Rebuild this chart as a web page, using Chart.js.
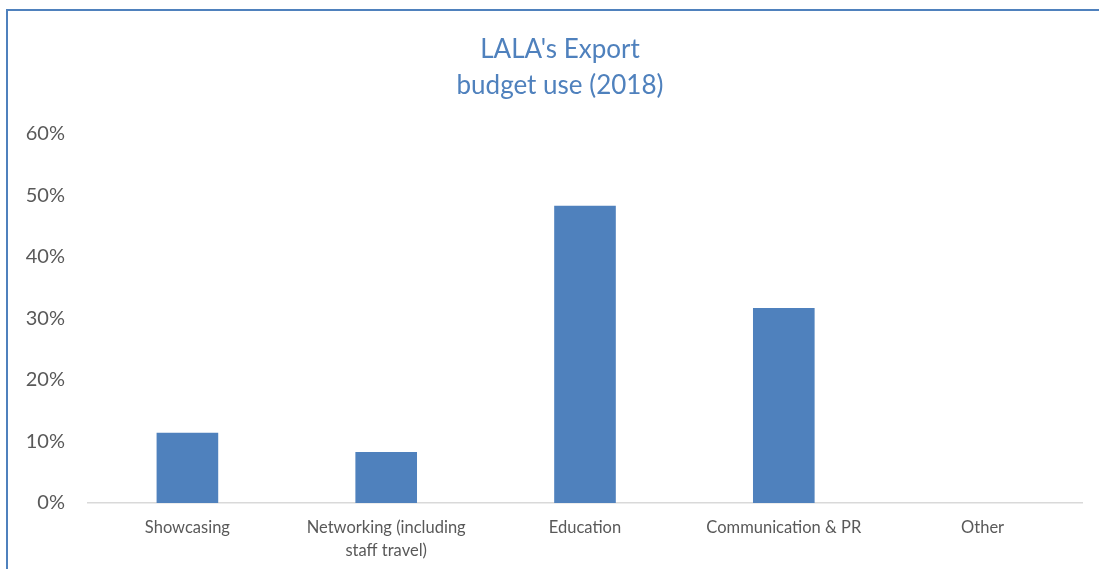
<!DOCTYPE html>
<html>
<head>
<meta charset="utf-8">
<script src="https://cdn.jsdelivr.net/npm/chart.js@4/dist/chart.umd.min.js"></script>
<style>
  html, body { margin: 0; padding: 0; background: #fff; overflow: hidden; }
  .frame {
    position: absolute;
    left: 6px;
    top: 9px;
    border: 2px solid #4F81BD;
    background: #fff;
  }
  canvas { display: block; }
</style>
</head>
<body>
<div class="frame">
  <canvas id="myChart" width="1110" height="600"></canvas>
</div>
<script>
// chart data
const categories = [
  'Showcasing',
  ['Networking (including', 'staff travel)'],
  'Education',
  'Communication & PR',
  'Other'
];
const budgetShare = [11.4, 8.3, 48.3, 31.7, 0];
const titleLines = ["LALA's Export", 'budget use (2018)'];
const yTicksMax = 60;
const yTickStep = 10;

const barColor = '#4F81BD';
const labelColor = '#595959';
const fontName = 'Lato, "Open Sans", sans-serif';

// the title sits a little right of the canvas centre, like the original
const shiftTitle = {
  id: 'shiftTitle',
  afterLayout(chart) {
    if (chart.titleBlock) {
      chart.titleBlock.left += 15;
      chart.titleBlock.right += 15;
    }
  }
};

const data = {
  labels: categories,
  datasets: [{
    label: 'Budget use',
    backgroundColor: barColor,
    borderColor: barColor,
    borderWidth: 0,
    barPercentage: 0.31,
    categoryPercentage: 1,
    data: budgetShare,
  }]
};

const config = {
  type: 'bar',
  data: data,
  plugins: [shiftTitle],
  options: {
    responsive: false,
    animation: false,
    layout: {
      padding: { left: 0, right: 36, top: 0, bottom: 48 }
    },
    scales: {
      x: {
        grid: { display: false, drawTicks: false },
        border: { display: true, color: '#D9D9D9', width: 1.5 },
        ticks: {
          color: labelColor,
          padding: 13,
          maxRotation: 0,
          autoSkip: false,
          font: { family: fontName, size: 16.5, lineHeight: 1.42 }
        },
        afterFit: (scale) => { scale.height = 60; }
      },
      y: {
        min: 0,
        max: yTicksMax,
        grid: { display: false, drawTicks: false },
        border: { display: false },
        ticks: {
          stepSize: yTickStep,
          color: labelColor,
          padding: 23,
          font: { family: fontName, size: 20 },
          callback: (v) => v + '%'
        },
        afterFit: (scale) => { scale.width = 80; }
      }
    },
    plugins: {
      legend: { display: false },
      tooltip: { enabled: false },
      title: {
        display: true,
        text: titleLines,
        color: barColor,
        font: { family: fontName, size: 26, weight: 'normal', lineHeight: 1.38 },
        padding: { top: 21, bottom: 30 }
      }
    }
  }
};

const myChart = new Chart(document.getElementById('myChart'), config);
</script>
</body>
</html>
